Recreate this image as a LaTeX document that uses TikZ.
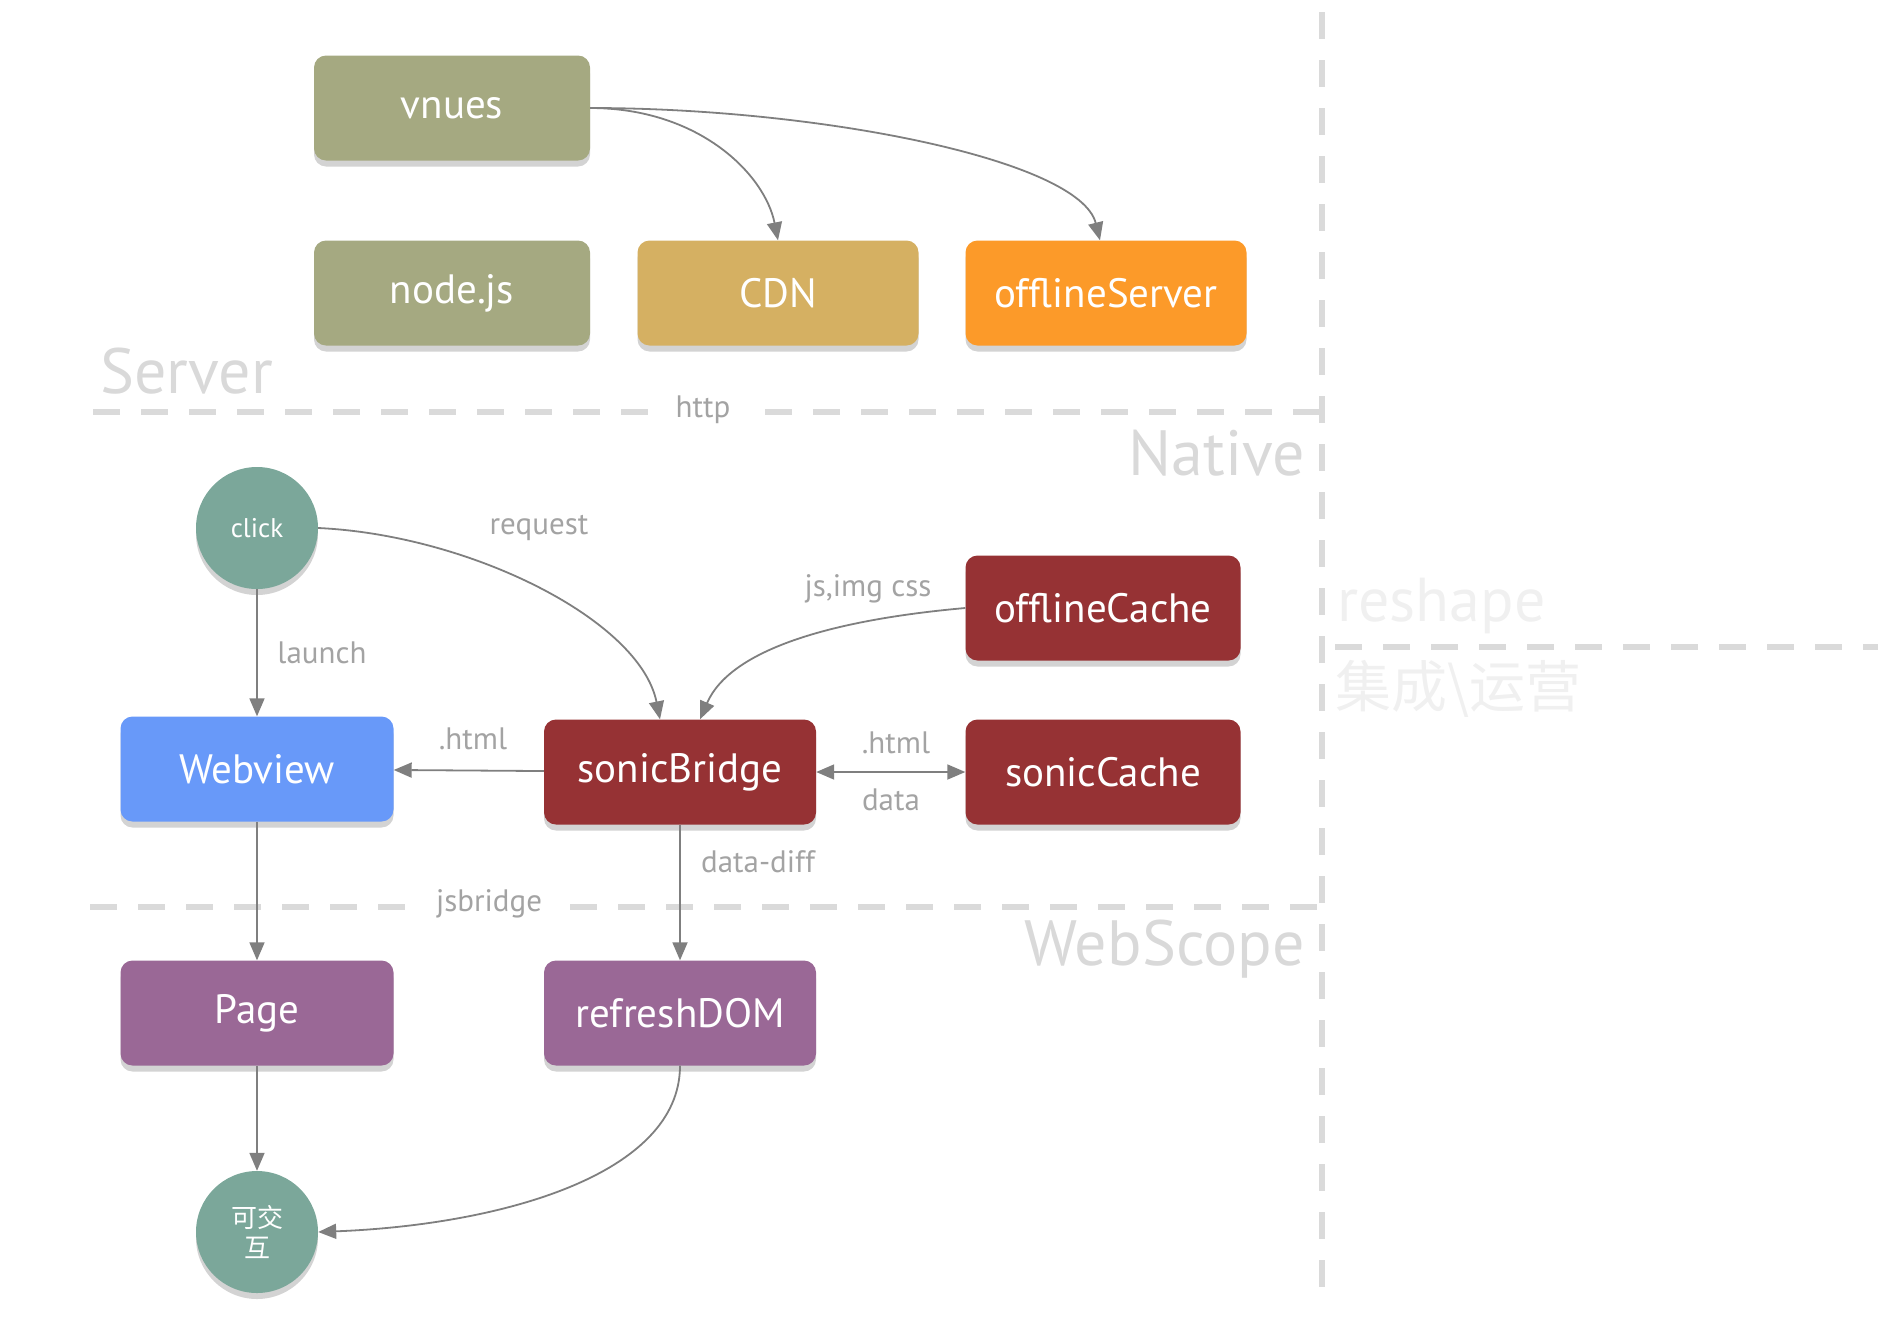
\documentclass[tikz,border=0pt]{standalone}
\usepackage{fontspec}
\setmainfont{PT Sans}
\newfontfamily\cjk{Noto Sans CJK SC}
\usetikzlibrary{arrows.meta,shadows}
\definecolor{olive}{HTML}{A5A981}
\definecolor{cdn}{HTML}{D5B062}
\definecolor{orng}{HTML}{FC9A29}
\definecolor{teal}{HTML}{7BA79A}
\definecolor{blue}{HTML}{6899F9}
\definecolor{wine}{HTML}{963234}
\definecolor{purp}{HTML}{9A6896}
\definecolor{dashc}{HTML}{DADADA}
\definecolor{lblc}{HTML}{A3A3A3}
\definecolor{bigc}{HTML}{D9D9D9}
\definecolor{faint}{HTML}{F0F0F0}
\definecolor{arrc}{HTML}{7F7F7F}
\tikzset{
  box/.style={rounded corners=12pt, minimum width=276pt, minimum height=105pt, inner sep=0pt,
    text=white, font=\fontsize{41}{46}\selectfont,
    drop shadow={shadow xshift=0pt, shadow yshift=-6pt, opacity=0.35}},
  circ/.style={circle, minimum size=122pt, inner sep=0pt, fill=teal, text=white,
    font=\fontsize{27}{30}\selectfont,
    drop shadow={shadow xshift=0pt, shadow yshift=-6pt, opacity=0.35}},
  conn/.style={draw=arrc, line width=1.8pt, -{Triangle[length=18pt,width=15pt]}},
  lbl/.style={text=lblc, font=\fontsize{31}{34}\selectfont, inner sep=2pt},
  big/.style={text=bigc, font=\fontsize{64}{70}\selectfont, inner sep=0pt},
  sep/.style={draw=dashc, line width=6pt, dash pattern=on 27pt off 21pt},
}
\begin{document}
\begin{tikzpicture}[x=1pt,y=-1pt]
\useasboundingbox (0,0) rectangle (1878,1320);
% separators
\draw[sep] (1322,12) -- (1322,1291);
\draw[sep] (93,412) -- (1322,412);
\draw[sep] (90,907) -- (1322,907);
\draw[sep] (1335,647) -- (1878,647);
% region labels
\node[big, anchor=west] (srv) at (100,371) {Server};
\node[big, anchor=east] (nat) at (1305,453) {Native};
\node[big, anchor=east] (ws) at (1305,949) {WebScope};
\node[text=faint, font=\fontsize{62}{66}\selectfont, anchor=west, inner sep=0pt] (rs) at (1337,606) {reshape};
\node[text=faint, font=\cjk\fontsize{56}{60}\selectfont, anchor=west, inner sep=0pt] (jc) at (1335,689) {集成\textbackslash 运营};
\node[lbl, fill=white, inner xsep=18pt] (http) at (703,410) {http};
\node[lbl, fill=white, inner xsep=18pt] (jsb) at (489,904) {jsbridge};
% boxes
\node[box, fill=olive] (vn) at (452,108) {vnues};
\node[box, fill=olive] (nj) at (452,293) {node.js};
\node[box, fill=cdn, minimum width=281pt] (cdn) at (778,293) {CDN};
\node[box, fill=orng, minimum width=281pt] (os) at (1106,293) {offlineServer};
\node[circ] (click) at (257,528) {click};
\node[box, fill=blue, minimum width=273pt] (wv) at (257,769) {Webview};
\node[box, fill=wine, minimum width=272pt] (sb) at (680,772) {sonicBridge};
\node[box, fill=wine, minimum width=275pt] (oc) at (1103,608) {offlineCache};
\node[box, fill=wine, minimum width=275pt] (sc) at (1103,772) {sonicCache};
\node[box, fill=purp, minimum width=273pt] (pg) at (257,1013) {Page};
\node[box, fill=purp, minimum width=272pt] (rd) at (680,1013) {refreshDOM};
\node[circ, align=center, font=\cjk\fontsize{26}{30}\selectfont] (ia) at (257,1232) {可交\\互};
% connectors
\draw[conn] (vn.east) .. controls (700,108) and (765,175) .. (cdn.north);
\draw[conn] (vn.east) .. controls (820,108) and (1080,160) .. ([xshift=-6pt]os.north);
\draw[conn] (click) -- (wv);
\draw[conn] (click.east) .. controls (470,535) and (640,620) .. ([xshift=-20pt]sb.north);
\draw[conn] (oc.west) .. controls (830,620) and (730,650) .. ([xshift=20pt]sb.north);
\draw[conn] (sb) -- (wv);
\draw[conn, {Triangle[length=18pt,width=15pt]}-{Triangle[length=18pt,width=15pt]}] (sb) -- (sc);
\draw[conn] (wv) -- (pg);
\draw[conn] (sb) -- (rd);
\draw[conn] (pg) -- (ia);
\draw[conn] (rd.south) .. controls (680,1175) and (500,1225) .. (ia.east);
% labels
\node[lbl] (lreq) at (539,528) {request};
\node[lbl] (ljs) at (868,589) {js,img css};
\node[lbl] (llaunch) at (322,653) {launch};
\node[lbl] (lh1) at (473,739) {.html};
\node[lbl] (lh2) at (896,743) {.html};
\node[lbl] (ldata) at (891,800) {data};
\node[lbl] (ldd) at (758,862) {data-diff};
\end{tikzpicture}
\end{document}
